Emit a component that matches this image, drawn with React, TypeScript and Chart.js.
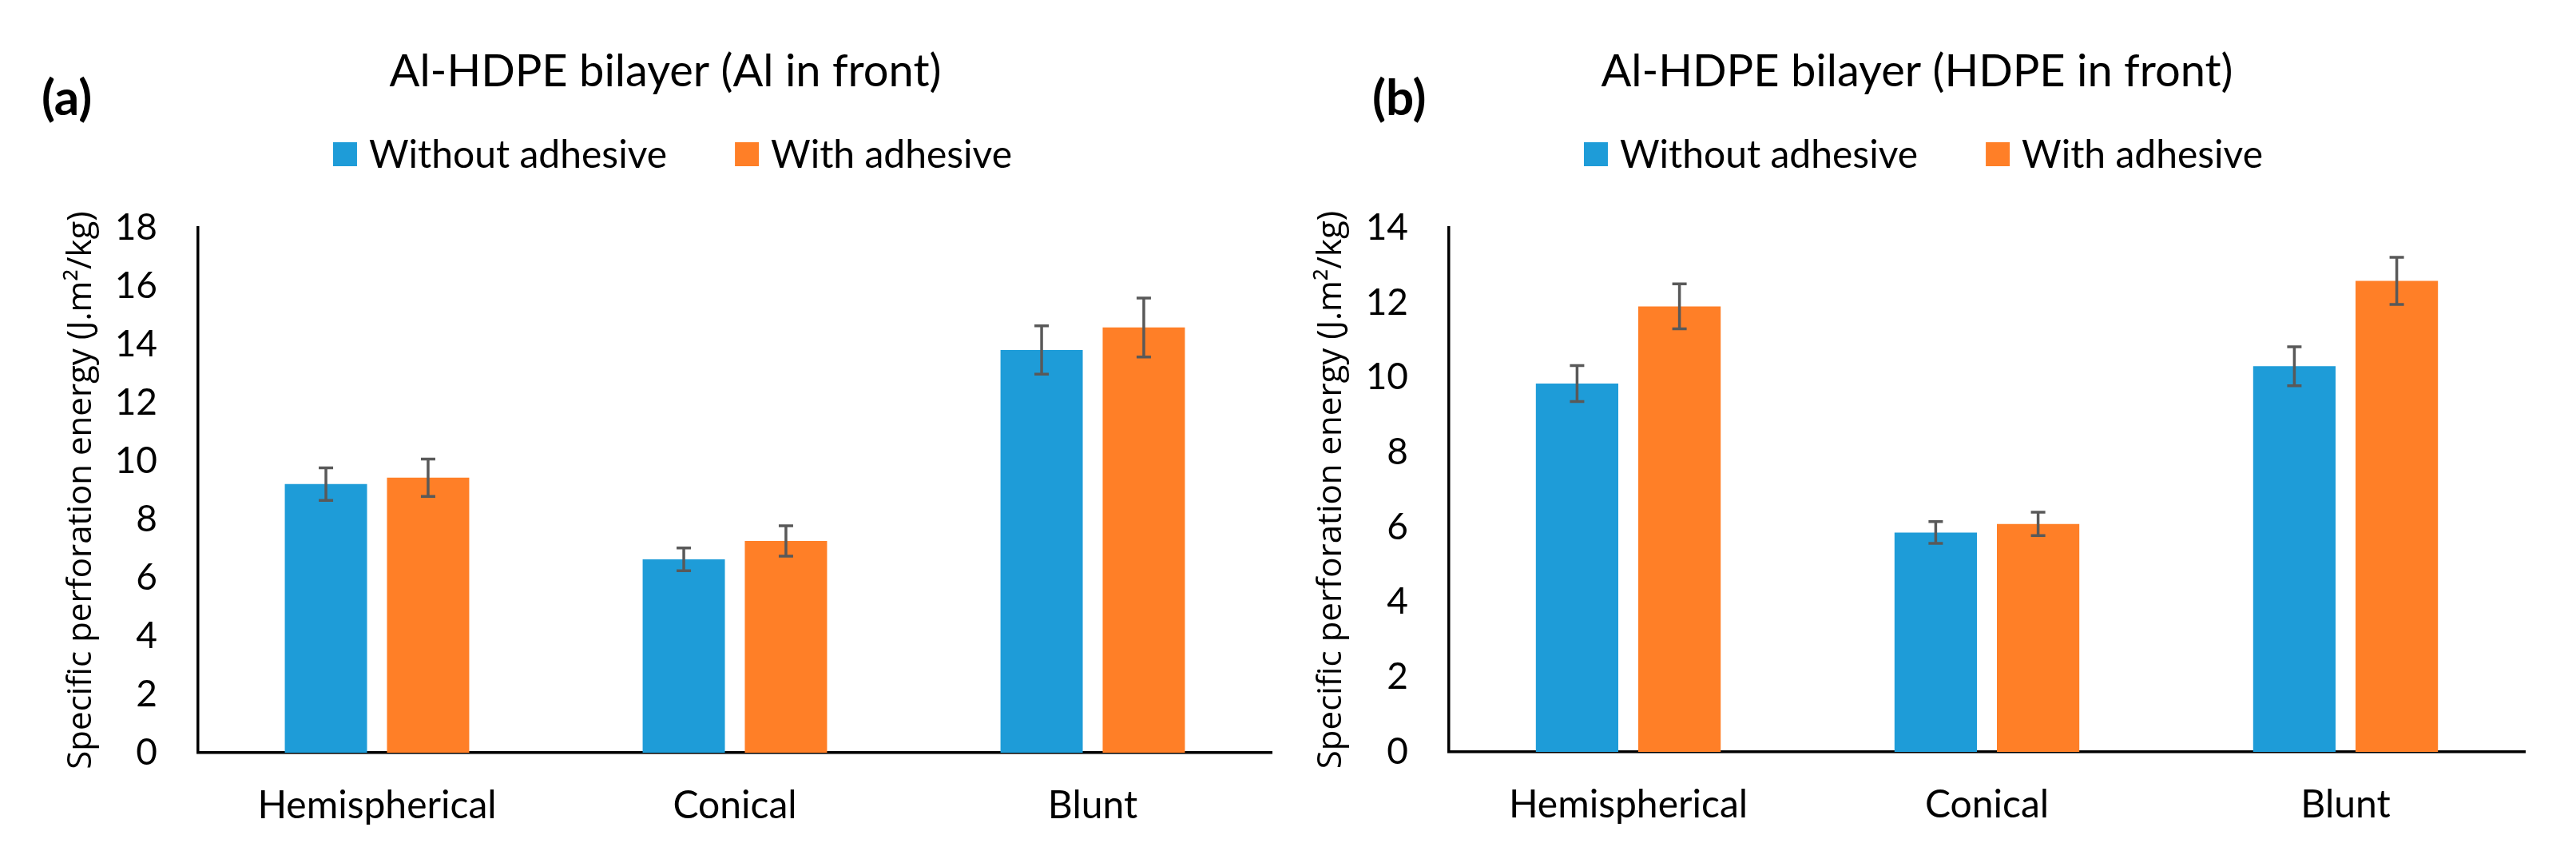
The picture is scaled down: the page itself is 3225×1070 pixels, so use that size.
import React, { useEffect, useRef } from 'react';
import { Chart, registerables } from 'chart.js';

Chart.register(...registerables);

// ---------- data ----------
const categories = ['Hemispherical', 'Conical', 'Blunt'];
const seriesNames = ['Without adhesive', 'With adhesive'];
const seriesColors = ['#1E9CD8', '#FF7F27'];

// (a) Al in front
const aWithout = [9.21, 6.63, 13.81];
const aWith = [9.43, 7.26, 14.58];
const aWithoutErr = [0.56, 0.39, 0.83];
const aWithErr = [0.64, 0.52, 1.01];
const aTickMax = 18;

// (b) HDPE in front
const bWithout = [9.84, 5.86, 10.3];
const bWith = [11.9, 6.09, 12.58];
const bWithoutErr = [0.48, 0.29, 0.52];
const bWithErr = [0.6, 0.31, 0.63];
const bTickMax = 14;

const tickStep = 2;
const yTitle = 'Specific perforation energy (J.m\u00B2/kg)';

// ---------- styling ----------
const FONT = 'Lato';
const Y_TITLE_FONT = 'Open Sans';

type PanelCfg = {
  letter: string;
  title: string;
  without: number[];
  withA: number[];
  withoutErr: number[];
  withErr: number[];
  yMax: number;
  left: number;
  width: number;
  yWidth: number;
  padRight: number;
  xHeight: number;
  yTitlePad: number;
  letterX: number;
  titleX: number;
  legendX: number;
};

const errorBarPlugin = {
  id: 'errorBars',
  afterDatasetsDraw(chart: any) {
    const ctx = chart.ctx;
    const yScale = chart.scales.y;
    ctx.save();
    ctx.strokeStyle = '#595959';
    ctx.lineWidth = 3.5;
    chart.data.datasets.forEach((ds: any, i: number) => {
      const meta = chart.getDatasetMeta(i);
      meta.data.forEach((bar: any, j: number) => {
        const v = ds.data[j];
        const e = ds.errorBars[j];
        const x = bar.x;
        const yT = yScale.getPixelForValue(v + e);
        const yB = yScale.getPixelForValue(v - e);
        const cap = 9;
        ctx.beginPath();
        ctx.moveTo(x, yT);
        ctx.lineTo(x, yB);
        ctx.moveTo(x - cap, yT);
        ctx.lineTo(x + cap, yT);
        ctx.moveTo(x - cap, yB);
        ctx.lineTo(x + cap, yB);
        ctx.stroke();
      });
    });
    ctx.restore();
  },
};

const makeHeaderPlugin = (cfg: PanelCfg) => ({
  id: 'header',
  afterDraw(chart: any) {
    const ctx = chart.ctx;
    ctx.save();
    ctx.fillStyle = '#000';
    ctx.textBaseline = 'middle';

    ctx.font = `bold 62px ${FONT}`;
    ctx.textAlign = 'left';
    ctx.fillText(cfg.letter, cfg.letterX, 124);

    ctx.font = `56px ${FONT}`;
    ctx.textAlign = 'center';
    ctx.fillText(cfg.title, cfg.titleX, 90);

    ctx.font = `48px ${FONT}`;
    const ds = chart.data.datasets;
    const box = 30;
    const gap = 15;
    const itemGap = 85;
    const widths = ds.map((d: any) => ctx.measureText(d.label).width);
    const total =
      widths.reduce((s: number, w: number) => s + box + gap + w, 0) + itemGap * (ds.length - 1);
    let x = cfg.legendX - total / 2;
    const ly = 193;
    ds.forEach((d: any, i: number) => {
      ctx.fillStyle = d.backgroundColor;
      ctx.fillRect(x, ly - box / 2, box, box);
      ctx.fillStyle = '#000';
      ctx.textAlign = 'left';
      ctx.fillText(d.label, x + box + gap, ly + 2);
      x += box + gap + widths[i] + itemGap;
    });
    ctx.restore();
  },
});

function Panel({ cfg }: { cfg: PanelCfg }) {
  const ref = useRef<HTMLCanvasElement>(null);
  useEffect(() => {
    const chart = new Chart(ref.current as HTMLCanvasElement, {
      type: 'bar',
      data: {
        labels: categories,
        datasets: [
          {
            label: seriesNames[0],
            data: cfg.without,
            backgroundColor: seriesColors[0],
            errorBars: cfg.withoutErr,
            categoryPercentage: 0.571,
            barPercentage: 0.805,
          } as any,
          {
            label: seriesNames[1],
            data: cfg.withA,
            backgroundColor: seriesColors[1],
            errorBars: cfg.withErr,
            categoryPercentage: 0.571,
            barPercentage: 0.805,
          } as any,
        ],
      },
      options: {
        animation: false,
        responsive: true,
        maintainAspectRatio: false,
        events: [],
        layout: { padding: { top: 285, right: cfg.padRight, bottom: 0, left: 0 } },
        plugins: {
          legend: { display: false },
          title: { display: false },
          tooltip: { enabled: false },
        },
        scales: {
          x: {
            grid: { display: false, drawTicks: false },
            border: { display: true, color: '#000', width: 3.5 },
            ticks: {
              font: { family: FONT, size: 48 },
              color: '#000',
              padding: 38,
              maxRotation: 0,
              autoSkip: false,
            },
            afterFit: (s: any) => {
              s.height = cfg.xHeight;
            },
          },
          y: {
            min: 0,
            max: cfg.yMax,
            grid: { display: false, drawTicks: false },
            border: { display: true, color: '#000', width: 3.5 },
            ticks: {
              stepSize: tickStep,
              font: { family: FONT, size: 46 },
              color: '#000',
              padding: 51,
            },
            title: {
              display: true,
              text: yTitle,
              font: { family: Y_TITLE_FONT, size: 42 },
              color: '#000',
              padding: { top: cfg.yTitlePad, bottom: 0 },
            },
            afterFit: (s: any) => {
              s.width = cfg.yWidth;
            },
          },
        },
      } as any,
      plugins: [errorBarPlugin, makeHeaderPlugin(cfg)],
    });
    return () => chart.destroy();
  }, []);
  return (
    <div
      style={{ position: 'absolute', left: cfg.left, top: 0, width: cfg.width, height: 1070 }}
    >
      <canvas ref={ref} />
    </div>
  );
}

const panelA: PanelCfg = {
  letter: '(a)',
  title: 'Al-HDPE bilayer (Al in front)',
  without: aWithout,
  withA: aWith,
  withoutErr: aWithoutErr,
  withErr: aWithErr,
  yMax: aTickMax,
  left: 0,
  width: 1612,
  yWidth: 248,
  padRight: 20,
  xHeight: 128,
  yTitlePad: 77,
  letterX: 52,
  titleX: 833,
  legendX: 842,
};

const panelB: PanelCfg = {
  letter: '(b)',
  title: 'Al-HDPE bilayer (HDPE in front)',
  without: bWithout,
  withA: bWith,
  withoutErr: bWithoutErr,
  withErr: bWithErr,
  yMax: bTickMax,
  left: 1612,
  width: 1613,
  yWidth: 202,
  padRight: 64,
  xHeight: 129,
  yTitlePad: 30,
  letterX: 106,
  titleX: 788,
  legendX: 796,
};

export default function App() {
  return (
    <div
      style={{
        position: 'fixed',
        left: 0,
        top: 0,
        width: 3225,
        height: 1070,
        background: '#fff',
        overflow: 'hidden',
      }}
    >
      <Panel cfg={panelA} />
      <Panel cfg={panelB} />
    </div>
  );
}
